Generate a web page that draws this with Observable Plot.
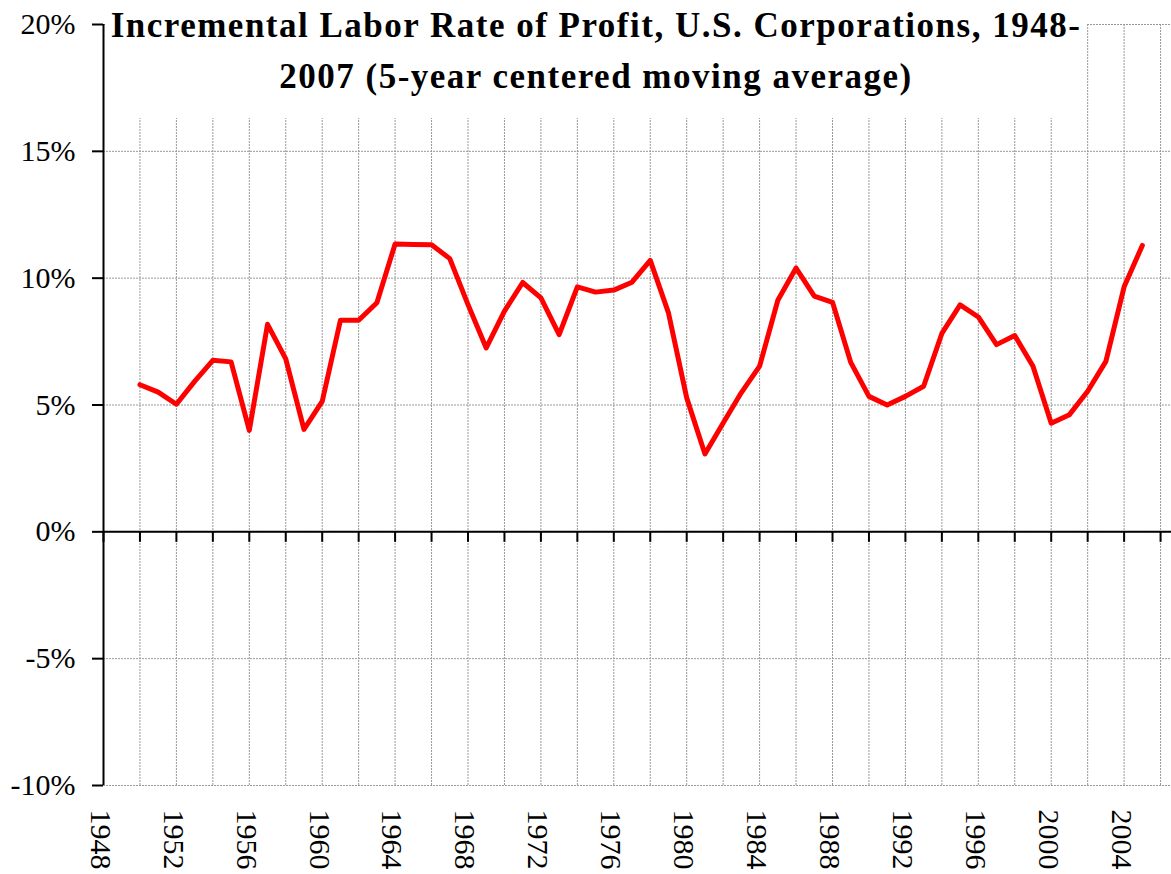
<!DOCTYPE html>
<html><head><meta charset="utf-8">
<script src="https://cdn.jsdelivr.net/npm/d3@7"></script>
<script src="https://cdn.jsdelivr.net/npm/@observablehq/plot@0.6"></script>
<style>
body{margin:0;background:#fff}
#wrap{position:relative;width:1171px;height:874px}
#title{position:absolute;left:105px;top:0;width:982px;height:118px;background:#fff;font-family:"Liberation Serif",serif;font-weight:bold;font-size:35px;letter-spacing:1.5px;text-align:center;line-height:51px;color:#000}
</style></head>
<body><div id="wrap"><div id="chart"></div><div id="title">Incremental Labor Rate of Profit, U.S. Corporations, 1948-<br>2007 (5-year centered moving average)</div></div>
<script>
const years = [1950,1951,1952,1953,1954,1955,1956,1957,1958,1959,1960,1961,1962,1963,1964,1965,1966,1967,1968,1969,1970,1971,1972,1973,1974,1975,1976,1977,1978,1979,1980,1981,1982,1983,1984,1985,1986,1987,1988,1989,1990,1991,1992,1993,1994,1995,1996,1997,1998,1999,2000,2001,2002,2003,2004,2005];
const rates = [5.80,5.51,5.03,5.93,6.76,6.70,4.00,8.18,6.82,4.04,5.14,8.34,8.34,9.03,11.35,11.33,11.32,10.77,8.96,7.25,8.70,9.83,9.22,7.77,9.66,9.45,9.53,9.84,10.70,8.63,5.28,3.07,4.29,5.49,6.53,9.13,10.40,9.29,9.05,6.68,5.34,5.00,5.34,5.74,7.82,8.95,8.47,7.38,7.74,6.53,4.28,4.62,5.54,6.72,9.66,11.29];
const yTicks = [-10,-5,0,5,10,15,20];
const gridYears = [1948,1950,1952,1954,1956,1958,1960,1962,1964,1966,1968,1970,1972,1974,1976,1978,1980,1982,1984,1986,1988,1990,1992,1994,1996,1998,2000,2002,2004,2006];
const labelYears = [1948,1952,1956,1960,1964,1968,1972,1976,1980,1984,1988,1992,1996,2000,2004];

const data = years.map((y, i) => ({year: y, rate: rates[i]}));
const tickSymbol = {draw(context) { context.moveTo(0, 0); context.lineTo(0, 10); }};

const chart = Plot.plot({
  width: 1171, height: 874,
  marginLeft: 103, marginRight: 0, marginTop: 24, marginBottom: 89,
  style: {fontFamily: "Liberation Serif, serif", fontSize: "30px", color: "#000", background: "#fff"},
  x: {domain: [1948, 2006.6], label: null},
  y: {domain: [-10, 20], label: null},
  marks: [
    Plot.gridX(gridYears, {stroke: "#999", strokeOpacity: 1, strokeDasharray: "2,1"}),
    Plot.gridY(yTicks, {stroke: "#999", strokeOpacity: 1, strokeDasharray: "2,1"}),
    Plot.ruleX([1948], {stroke: "#000", strokeWidth: 2}),
    Plot.ruleY([0], {stroke: "#000", strokeWidth: 2}),
    Plot.dot(gridYears, {x: d => d, y: () => 0, symbol: tickSymbol, stroke: "#000", strokeWidth: 2, fill: "none"}),
    Plot.axisY(yTicks, {tickSize: 11, tickPadding: 17, tickFormat: d => d + "%", strokeWidth: 2, label: null}),
    Plot.axisX(labelYears, {tickSize: 0, tickPadding: 24, tickRotate: 90, tickFormat: d => String(d), dx: -3, label: null}),
    Plot.line(data, {x: "year", y: "rate", stroke: "#ff0000", strokeWidth: 5})
  ]
});
document.getElementById("chart").appendChild(chart);
</script>
</body></html>
